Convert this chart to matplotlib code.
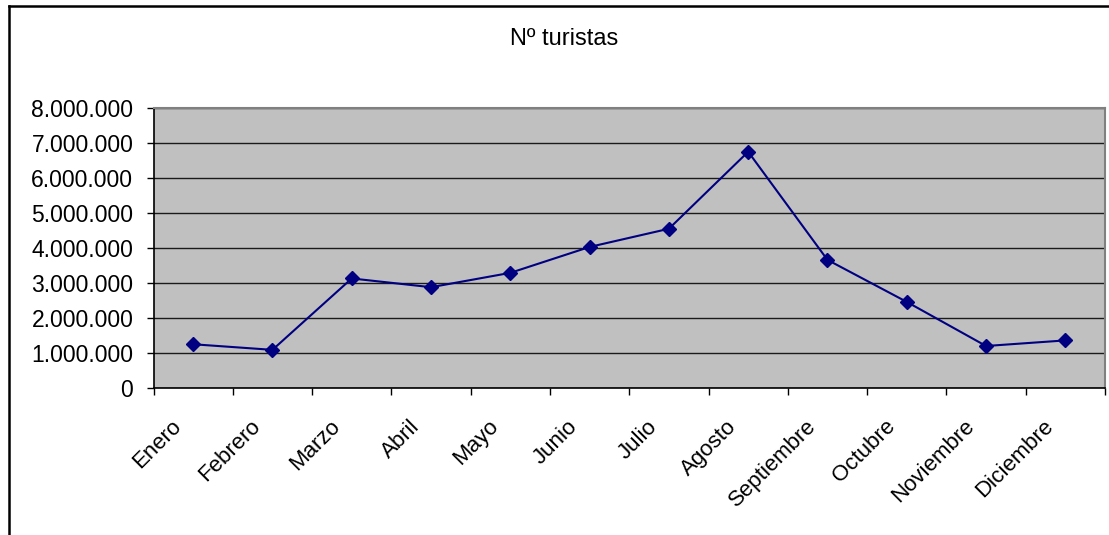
import matplotlib
matplotlib.use("Agg")
import matplotlib.pyplot as plt
from matplotlib.lines import Line2D
from matplotlib.ticker import FuncFormatter, FixedLocator

# data
meses = ['Enero', 'Febrero', 'Marzo', 'Abril', 'Mayo', 'Junio', 'Julio',
         'Agosto', 'Septiembre', 'Octubre', 'Noviembre', 'Diciembre']
turistas = [1250000, 1090000, 3130000, 2880000, 3290000, 4030000, 4550000,
            6750000, 3660000, 2460000, 1200000, 1360000]

plt.rcParams['font.family'] = ['Liberation Sans', 'DejaVu Sans']

W, H = 1109, 535
fig = plt.figure(figsize=(W / 100, H / 100), dpi=100)
fig.patch.set_facecolor('white')

# plot area in pixels
left, right, top, bottom = 153.5, 1105, 108, 388
ax = fig.add_axes([left / W, 1 - bottom / H, (right - left) / W, (bottom - top) / H])
ax.set_facecolor('#C0C0C0')

x = list(range(len(meses)))
ax.plot(x, turistas, color='#000080', linewidth=1.5, marker='D',
        markersize=7.5, markerfacecolor='#000080', markeredgecolor='#000080', zorder=3)

ax.set_xlim(-0.5, len(meses) - 0.5)
ax.set_ylim(0, 8000000)
ax.set_yticks(range(0, 8000001, 1000000))
ax.yaxis.set_major_formatter(FuncFormatter(lambda v, p: f'{int(v):,}'.replace(',', '.')))
ax.grid(axis='y', color='#1a1a1a', linewidth=1.0)
ax.set_axisbelow(True)

# category boundaries carry the ticks, labels sit at centers
ax.xaxis.set_major_locator(FixedLocator([i - 0.5 for i in range(len(meses) + 1)]))
ax.xaxis.set_major_formatter(FuncFormatter(lambda v, p: ''))
ax.tick_params(axis='x', direction='out', length=5, width=1, color='black')
ax.tick_params(axis='y', direction='out', length=5, width=1, color='black',
               labelsize=16.5, pad=9.5)

for i, m in enumerate(meses):
    ax.text(i - 0.28, -0.10, m, transform=ax.get_xaxis_transform(),
            rotation=45, ha='right', va='top', rotation_mode='anchor', fontsize=16)

for s in ['top', 'right']:
    ax.spines[s].set_color('#808080')
    ax.spines[s].set_linewidth(1.5)
for s in ['left', 'bottom']:
    ax.spines[s].set_color('black')
    ax.spines[s].set_linewidth(1.2)

fig.text(564 / W, 1 - 45 / H, 'Nº turistas', ha='center', va='baseline', fontsize=17)

# outer chart frame (cut off at right and bottom)
fig.add_artist(Line2D([8.5 / W, 8.5 / W], [0, 1 - 5.5 / H], color='black', linewidth=1.8,
                      transform=fig.transFigure))
fig.add_artist(Line2D([8.5 / W, 1], [1 - 5.5 / H, 1 - 5.5 / H], color='black', linewidth=1.8,
                      transform=fig.transFigure))

fig.savefig('out.png', dpi=100)
